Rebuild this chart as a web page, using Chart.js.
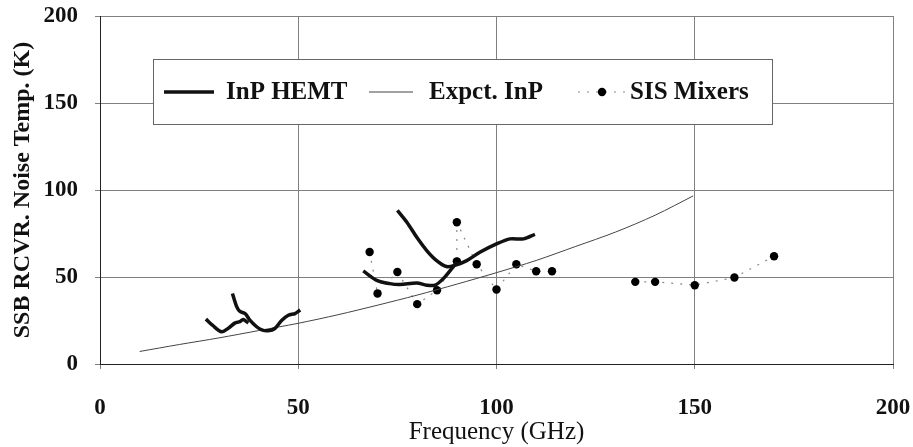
<!DOCTYPE html>
<html><head><meta charset="utf-8">
<script src="https://cdn.jsdelivr.net/npm/chart.js@4/dist/chart.umd.min.js"></script>
<style>html,body{margin:0;padding:0;background:#fff}#wrap{width:913px;height:447px;position:relative}</style>
</head><body><div id="wrap"><canvas id="c" width="913" height="447"></canvas></div>
<script>
// ---- data ----
const xTickValues = [0, 50, 100, 150, 200];
const yTickValues = [0, 50, 100, 150, 200];
const seriesNames = ['InP HEMT', 'Expct. InP', 'SIS Mixers'];
const xTitle = 'Frequency (GHz)';
const yTitle = 'SSB RCVR. Noise Temp. (K)';

// InP HEMT, four measured traces
const hemt1Freq = [26.7, 28.5, 30.7, 32.4, 34.0, 35.3, 36.1, 37.4];
const hemt1Temp = [25.8, 22.0, 18.5, 20.6, 23.5, 24.3, 25.6, 23.5];
const hemt2Freq = [33.4, 34.5, 35.3, 36.6, 37.8, 39.5, 40.8, 42.4, 44.1, 45.8, 47.5, 49.2, 50.5];
const hemt2Temp = [40.5, 32.8, 30.2, 29.0, 25.2, 21.4, 19.6, 19.1, 20.4, 25.0, 28.0, 29.0, 31.0];
const hemt3Freq = [75.0, 77.4, 79.9, 82.4, 84.9, 87.4, 89.5, 92.5, 95.8, 100.0, 103.4, 106.8, 109.7];
const hemt3Temp = [88.3, 81.5, 72.8, 65.2, 59.4, 56.0, 56.7, 59.4, 64.2, 69.0, 71.9, 71.9, 74.5];
const hemt4Freq = [66.4, 69.8, 73.1, 75.7, 79.9, 82.4, 84.5, 86.6, 88.7, 90.0];
const hemt4Temp = [53.5, 48.1, 46.2, 45.7, 46.6, 45.3, 45.3, 49.1, 54.8, 58.6];

// Expected InP
const expFreq = [10, 20, 30, 40, 50, 60, 70, 80, 90, 100, 110, 120, 130, 140, 149.6];
const expTemp = [7.2, 11.2, 15.0, 19.2, 23.4, 28.3, 33.8, 39.6, 45.9, 52.5, 59.5, 67.6, 75.8, 85.5, 96.6];

// SIS mixers (two groups, dotted line within each group)
const sisFreqA = [68, 70, 75, 80, 85, 90, 90, 95, 100, 105, 110, 114];
const sisTempA = [64.4, 40.5, 52.9, 34.4, 42.4, 59.0, 81.5, 57.3, 42.8, 57.3, 53.3, 53.3];
const sisFreqB = [135, 140, 150, 160, 170];
const sisTempB = [47.2, 47.2, 45.3, 49.7, 61.9];

// ---- helpers ----
const pts = (xs, ys) => xs.map((x, i) => ({x: x, y: ys[i]}));
const SERIF = '"Liberation Serif", "Times New Roman", serif';

const hemtStyle = {borderColor: '#111', borderWidth: 3.5, pointRadius: 0, showLine: true, tension: 0.3, fill: false};
const sisStyle = {borderColor: '#8a8a8a', borderWidth: 1.2, borderDash: [2, 7], pointRadius: 4.2, pointBackgroundColor: '#000', pointBorderColor: '#000', pointBorderWidth: 0, showLine: true, tension: 0, fill: false};
const datasets = [
  Object.assign({label: seriesNames[0], data: pts(hemt1Freq, hemt1Temp)}, hemtStyle),
  Object.assign({label: seriesNames[0], data: pts(hemt2Freq, hemt2Temp)}, hemtStyle),
  Object.assign({label: seriesNames[0], data: pts(hemt3Freq, hemt3Temp)}, hemtStyle),
  Object.assign({label: seriesNames[0], data: pts(hemt4Freq, hemt4Temp)}, hemtStyle),
  {label: seriesNames[1], data: pts(expFreq, expTemp), borderColor: '#444', borderWidth: 1, pointRadius: 0, showLine: true, tension: 0.3, fill: false},
  Object.assign({label: seriesNames[2], data: pts(sisFreqA, sisTempA)}, sisStyle),
  Object.assign({label: seriesNames[2], data: pts(sisFreqB, sisTempB)}, sisStyle)
];

// legend drawn inside a boxed frame, styles taken from the datasets
const boxLegend = {
  id: 'boxLegend',
  afterDraw(chart) {
    const ctx = chart.ctx;
    const ds = chart.data.datasets;
    const hemt = ds[0], exp = ds[4], sis = ds[5];
    ctx.save();
    ctx.fillStyle = '#fff';
    ctx.fillRect(153, 59, 619, 65);
    ctx.strokeStyle = '#666';
    ctx.lineWidth = 1;
    ctx.strokeRect(153.5, 59.5, 619, 65);
    const y = 92;
    const line = (x0, x1, d) => {
      ctx.beginPath();
      ctx.strokeStyle = d.borderColor; ctx.lineWidth = d.borderWidth;
      ctx.setLineDash(d.borderDash || []);
      ctx.moveTo(x0, y); ctx.lineTo(x1, y); ctx.stroke();
      ctx.setLineDash([]);
    };
    line(164, 214, hemt);
    line(369, 413, exp);
    line(578, 626, sis);
    ctx.beginPath(); ctx.fillStyle = sis.pointBackgroundColor; ctx.arc(602, y, sis.pointRadius, 0, Math.PI * 2); ctx.fill();
    ctx.fillStyle = '#111';
    ctx.font = 'bold 25px ' + SERIF;
    ctx.textBaseline = 'middle';
    ctx.textAlign = 'left';
    ctx.fillText(seriesNames[0], 226, y + 1);
    ctx.fillText(seriesNames[1], 429, y + 1);
    ctx.fillText(seriesNames[2], 630, y + 1);
    ctx.restore();
  }
};

new Chart(document.getElementById('c'), {
  type: 'scatter',
  data: {datasets: datasets},
  plugins: [boxLegend],
  options: {
    responsive: false,
    animation: false,
    devicePixelRatio: 1,
    layout: {padding: {top: 16, right: 20, left: 0, bottom: 0}},
    plugins: {legend: {display: false}, tooltip: {enabled: false}},
    scales: {
      x: {
        type: 'linear', min: 0, max: 200,
        afterBuildTicks: s => { s.ticks = xTickValues.map(v => ({value: v})); },
        afterFit: s => { s.height = 83; s.paddingLeft = 0; s.paddingRight = 0; },
        grid: {color: '#808080', lineWidth: 1, tickLength: 5, drawTicks: true},
        border: {color: '#222', width: 1},
        ticks: {color: '#111', padding: 25, maxRotation: 0, font: {family: SERIF, size: 23, weight: 'bold'}},
        title: {display: true, text: xTitle, color: '#111', padding: {top: 0, bottom: 0}, font: {family: SERIF, size: 25, weight: 'normal'}}
      },
      y: {
        type: 'linear', min: 0, max: 200,
        afterBuildTicks: s => { s.ticks = yTickValues.map(v => ({value: v})); },
        afterFit: s => { s.width = 100; s.paddingTop = 0; s.paddingBottom = 0; },
        grid: {color: '#808080', lineWidth: 1, tickLength: 5, drawTicks: true},
        border: {color: '#222', width: 1},
        ticks: {color: '#111', padding: 17, font: {family: SERIF, size: 23, weight: 'bold'}},
        title: {display: true, text: yTitle, color: '#111', padding: {top: 8, bottom: 0}, font: {family: SERIF, size: 24, weight: 'bold'}}
      }
    }
  }
});
</script>
</body></html>
